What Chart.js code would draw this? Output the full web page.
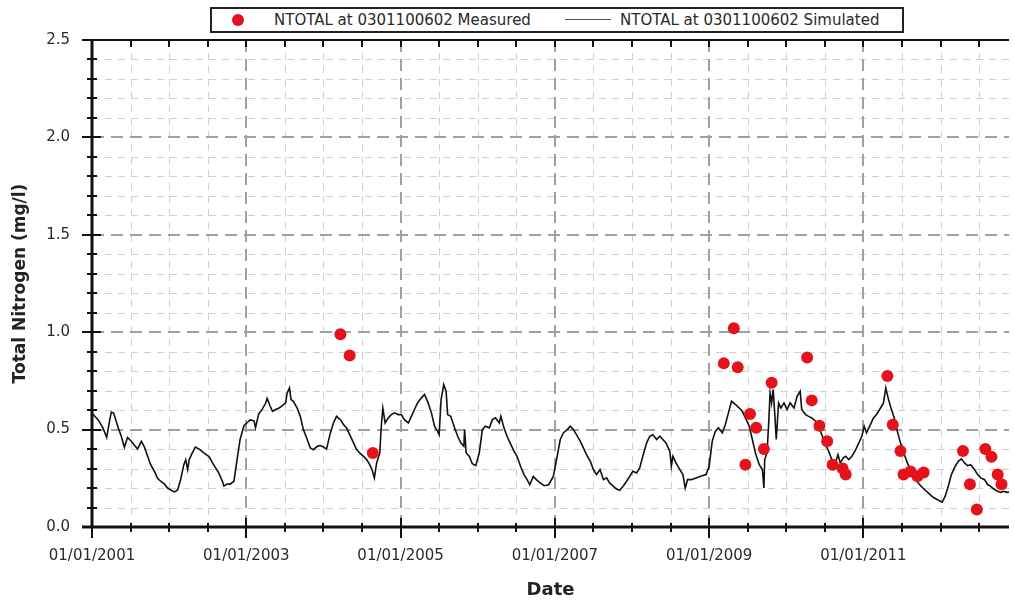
<!DOCTYPE html>
<html>
<head>
<meta charset="utf-8">
<title>NTOTAL at 0301100602</title>
<script src="https://cdn.jsdelivr.net/npm/chart.js@4.4.1/dist/chart.umd.min.js"></script>
<style>
  html, body { margin: 0; padding: 0; background: #fff; }
  #wrap { position: relative; width: 1015px; height: 603px; overflow: hidden; }
  #legend {
    position: absolute; left: 210px; top: 7px; width: 690px; height: 22px;
    border: 2px solid #222; background: #fff;
    font: 15px "DejaVu Sans", sans-serif; color: #2a2a2a;
  }
  #legend span { position: absolute; top: 2px; white-space: nowrap; line-height: 18px; }
  #legend .dot { position: absolute; top: 5px; width: 12px; height: 12px; border-radius: 50%; }
  #legend .seg { position: absolute; top: 10px; height: 1px; }
</style>
</head>
<body>
<div id="wrap">
  <canvas id="ntotalChart" width="1015" height="603"></canvas>
  <div id="legend"></div>
</div>
<script>
// measured samples (decimal year, mg/l)
const measYears = [2004.22, 2004.34, 2004.64,
  2009.19, 2009.32, 2009.37, 2009.47, 2009.53, 2009.61, 2009.71, 2009.81,
  2010.27, 2010.33, 2010.43, 2010.53, 2010.60, 2010.73, 2010.77,
  2011.31, 2011.38, 2011.48, 2011.52, 2011.61, 2011.70, 2011.78,
  2012.29, 2012.38, 2012.47, 2012.58, 2012.66, 2012.74, 2012.79];
const measValues = [0.99, 0.88, 0.38,
  0.84, 1.02, 0.82, 0.32, 0.58, 0.51, 0.40, 0.74,
  0.87, 0.65, 0.52, 0.44, 0.32, 0.30, 0.27,
  0.775, 0.525, 0.39, 0.27, 0.285, 0.26, 0.28,
  0.39, 0.22, 0.09, 0.40, 0.36, 0.27, 0.22];

// simulated series, one line per year
const simYears = [
  2001.01, 2001.08, 2001.14, 2001.19, 2001.23, 2001.25, 2001.28, 2001.34, 2001.38, 2001.42, 2001.46, 2001.51, 2001.55, 2001.59, 2001.64, 2001.68, 2001.72, 2001.76, 2001.81, 2001.85, 2001.89, 2001.94, 2001.98,
  2002.02, 2002.07, 2002.11, 2002.15, 2002.19, 2002.215, 2002.24, 2002.26, 2002.30, 2002.34, 2002.39, 2002.45, 2002.52, 2002.56, 2002.60, 2002.64, 2002.69, 2002.71, 2002.75, 2002.79, 2002.84, 2002.88, 2002.92, 2002.97,
  2003.01, 2003.05, 2003.10, 2003.12, 2003.16, 2003.20, 2003.25, 2003.27, 2003.31, 2003.34, 2003.38, 2003.42, 2003.46, 2003.51, 2003.53, 2003.56, 2003.58, 2003.61, 2003.66, 2003.70, 2003.74, 2003.79, 2003.83, 2003.87, 2003.92, 2003.96,
  2004.00, 2004.04, 2004.09, 2004.13, 2004.17, 2004.22, 2004.26, 2004.30, 2004.34, 2004.39, 2004.43, 2004.47, 2004.52, 2004.56, 2004.60, 2004.63, 2004.66, 2004.69, 2004.73, 2004.75, 2004.77, 2004.80, 2004.84, 2004.88, 2004.92, 2004.97,
  2005.01, 2005.05, 2005.10, 2005.14, 2005.18, 2005.22, 2005.27, 2005.31, 2005.35, 2005.40, 2005.44, 2005.48, 2005.50, 2005.525, 2005.56, 2005.59, 2005.61, 2005.65, 2005.70, 2005.74, 2005.78, 2005.82, 2005.83, 2005.85, 2005.89, 2005.93, 2005.975,
  2006.02, 2006.06, 2006.10, 2006.15, 2006.19, 2006.23, 2006.28, 2006.30, 2006.34, 2006.38, 2006.43, 2006.47, 2006.51, 2006.555, 2006.60, 2006.64, 2006.675, 2006.72, 2006.76, 2006.81, 2006.86, 2006.92, 2006.98,
  2007.03, 2007.07, 2007.11, 2007.16, 2007.20, 2007.24, 2007.28, 2007.33, 2007.37, 2007.41, 2007.46, 2007.50, 2007.54, 2007.585, 2007.63, 2007.67, 2007.71, 2007.76, 2007.80, 2007.84, 2007.885, 2007.93, 2007.97,
  2008.01, 2008.06, 2008.10, 2008.14, 2008.19, 2008.23, 2008.27, 2008.32, 2008.36, 2008.40, 2008.44, 2008.49, 2008.51, 2008.53, 2008.57, 2008.62, 2008.66, 2008.69, 2008.72, 2008.77, 2008.83, 2008.89, 2008.96,
  2009.00, 2009.04, 2009.08, 2009.12, 2009.17, 2009.21, 2009.25, 2009.29, 2009.34, 2009.39, 2009.43, 2009.47, 2009.52, 2009.56, 2009.60, 2009.65, 2009.69, 2009.71, 2009.72, 2009.75, 2009.77, 2009.79, 2009.81, 2009.83, 2009.85, 2009.87, 2009.90, 2009.93, 2009.97,
  2010.01, 2010.05, 2010.10, 2010.14, 2010.18, 2010.20, 2010.25, 2010.29, 2010.33, 2010.38, 2010.42, 2010.46, 2010.50, 2010.55, 2010.59, 2010.63, 2010.67, 2010.70, 2010.74, 2010.77, 2010.81, 2010.85, 2010.89, 2010.93, 2010.98,
  2011.01, 2011.04, 2011.08, 2011.13, 2011.17, 2011.21, 2011.26, 2011.29, 2011.32, 2011.35, 2011.40, 2011.44, 2011.48, 2011.53, 2011.57, 2011.61, 2011.66, 2011.71, 2011.77, 2011.84, 2011.90, 2011.96,
  2012.02, 2012.06, 2012.10, 2012.14, 2012.19, 2012.23, 2012.27, 2012.31, 2012.35, 2012.39, 2012.44, 2012.48, 2012.52, 2012.57, 2012.61, 2012.65, 2012.69, 2012.74, 2012.78, 2012.82, 2012.87, 2012.89
];
const simValues = [
  0.58, 0.55, 0.51, 0.46, 0.55, 0.59, 0.585, 0.51, 0.465, 0.41, 0.46, 0.44, 0.42, 0.40, 0.44, 0.41, 0.365, 0.32, 0.285, 0.25, 0.235, 0.22, 0.20,
  0.19, 0.18, 0.19, 0.245, 0.32, 0.345, 0.295, 0.345, 0.38, 0.41, 0.40, 0.38, 0.36, 0.33, 0.305, 0.28, 0.235, 0.21, 0.22, 0.22, 0.235, 0.345, 0.45, 0.52,
  0.535, 0.55, 0.545, 0.51, 0.58, 0.60, 0.635, 0.66, 0.62, 0.594, 0.603, 0.61, 0.62, 0.637, 0.688, 0.714, 0.654, 0.645, 0.61, 0.568, 0.50, 0.449, 0.406, 0.397, 0.414, 0.418,
  0.411, 0.40, 0.483, 0.534, 0.568, 0.551, 0.526, 0.509, 0.474, 0.432, 0.397, 0.38, 0.363, 0.346, 0.32, 0.295, 0.252, 0.329, 0.38, 0.517, 0.61, 0.534, 0.56, 0.577, 0.586, 0.577,
  0.577, 0.551, 0.534, 0.568, 0.603, 0.637, 0.663, 0.68, 0.645, 0.586, 0.517, 0.491, 0.474, 0.654, 0.731, 0.697, 0.577, 0.568, 0.509, 0.466, 0.432, 0.414, 0.50, 0.38, 0.363, 0.325, 0.315,
  0.38, 0.50, 0.517, 0.509, 0.551, 0.56, 0.534, 0.568, 0.509, 0.466, 0.423, 0.389, 0.363, 0.312, 0.269, 0.243, 0.217, 0.26, 0.243, 0.226, 0.212, 0.217, 0.26,
  0.363, 0.449, 0.483, 0.50, 0.517, 0.50, 0.474, 0.44, 0.406, 0.372, 0.337, 0.295, 0.269, 0.295, 0.243, 0.252, 0.226, 0.209, 0.195, 0.188, 0.209, 0.235, 0.26,
  0.286, 0.277, 0.303, 0.363, 0.432, 0.466, 0.474, 0.449, 0.466, 0.449, 0.432, 0.389, 0.312, 0.363, 0.329, 0.295, 0.269, 0.20, 0.243, 0.243, 0.252, 0.26, 0.269,
  0.312, 0.44, 0.491, 0.509, 0.483, 0.526, 0.586, 0.646, 0.629, 0.611, 0.594, 0.56, 0.517, 0.449, 0.38, 0.32, 0.295, 0.20, 0.346, 0.38, 0.517, 0.688, 0.637, 0.706, 0.586, 0.449, 0.637, 0.611, 0.637,
  0.603, 0.637, 0.611, 0.671, 0.697, 0.603, 0.577, 0.568, 0.56, 0.543, 0.517, 0.474, 0.432, 0.389, 0.346, 0.32, 0.372, 0.329, 0.355, 0.363, 0.346, 0.363, 0.389, 0.423, 0.466,
  0.517, 0.483, 0.517, 0.56, 0.577, 0.603, 0.637, 0.714, 0.663, 0.62, 0.56, 0.491, 0.432, 0.372, 0.329, 0.295, 0.252, 0.226, 0.20, 0.175, 0.154, 0.14,
  0.127, 0.158, 0.209, 0.269, 0.312, 0.337, 0.35, 0.329, 0.315, 0.32, 0.295, 0.269, 0.252, 0.243, 0.218, 0.209, 0.195, 0.183, 0.178, 0.183, 0.178, 0.18
];

// labelled ticks
const xLabelYears = [2001, 2003, 2005, 2007, 2009, 2011];
const yLabelValues = [0.0, 0.5, 1.0, 1.5, 2.0, 2.5];

const X_MIN = 2001;
const X_MAX = 2012.887;
const RED = '#e5121c';

const isMajorX = v => xLabelYears.some(l => Math.abs(l - v) < 1e-6);
const isMajorY = v => yLabelValues.some(l => Math.abs(l - v) < 1e-6);

// dashed grid + axis frame with crossing tick marks
const paperFrame = {
    id: 'paperFrame',
    beforeDatasetsDraw(chart) {
        const { ctx, chartArea: a, scales: { x, y } } = chart;
        ctx.save();
        ctx.beginPath();
        ctx.rect(a.left, a.top, a.right - a.left, a.bottom - a.top);
        ctx.clip();
        [false, true].forEach(major => {
            ctx.strokeStyle = major ? '#a0a0a0' : '#d0d0d0';
            ctx.lineWidth = major ? 2 : 1;
            ctx.setLineDash(major ? [12, 7] : [7, 6]);
            y.ticks.forEach(t => {
                if (isMajorY(t.value) !== major) return;
                const py = Math.round(y.getPixelForValue(t.value)) + (major ? 0 : 0.5);
                ctx.beginPath();
                ctx.moveTo(a.left, py);
                ctx.lineTo(a.right, py);
                ctx.stroke();
            });
            x.ticks.forEach(t => {
                if (isMajorX(t.value) !== major) return;
                const px = Math.round(x.getPixelForValue(t.value)) + (major ? 0 : 0.5);
                ctx.beginPath();
                ctx.moveTo(px, a.top);
                ctx.lineTo(px, a.bottom);
                ctx.stroke();
            });
        });
        ctx.restore();
    },
    afterDatasetsDraw(chart) {
        const { ctx, chartArea: a, scales: { x, y } } = chart;
        ctx.save();
        ctx.strokeStyle = '#111';
        ctx.setLineDash([]);

        ctx.lineWidth = 2;
        ctx.beginPath(); ctx.moveTo(a.left, a.top); ctx.lineTo(a.right, a.top); ctx.stroke();
        ctx.lineWidth = 3;
        ctx.beginPath(); ctx.moveTo(a.left, a.top); ctx.lineTo(a.left, a.bottom); ctx.stroke();
        ctx.beginPath(); ctx.moveTo(a.left - 10, a.bottom); ctx.lineTo(a.right, a.bottom); ctx.stroke();

        ctx.lineWidth = 2;
        y.ticks.forEach(t => {
            const py = Math.round(y.getPixelForValue(t.value));
            const major = isMajorY(t.value);
            ctx.beginPath();
            ctx.moveTo(a.left - (major ? 10 : 5), py);
            ctx.lineTo(a.left + (major ? 9 : 5), py);
            ctx.stroke();
        });
        x.ticks.forEach(t => {
            const px = Math.round(x.getPixelForValue(t.value));
            const major = isMajorX(t.value);
            ctx.beginPath();
            ctx.moveTo(px, a.bottom - (major ? 9 : 4));
            ctx.lineTo(px, a.bottom + (major ? 11 : 5));
            ctx.stroke();
            ctx.beginPath();
            ctx.moveTo(px, a.top);
            ctx.lineTo(px, a.top + 7);
            ctx.stroke();
        });
        ctx.restore();
    }
};

document.addEventListener('DOMContentLoaded', function() {
    const canvas = document.getElementById('ntotalChart');

    const measured = measYears.map((yr, i) => ({ x: yr, y: measValues[i] }));
    const simulated = simYears.map((yr, i) => ({ x: yr, y: simValues[i] }));

    const chart = new Chart(canvas, {
        type: 'line',
        data: {
            datasets: [{
                label: 'NTOTAL at 0301100602 Measured',
                data: measured,
                showLine: false,
                pointRadius: 6,
                pointHoverRadius: 6,
                pointBackgroundColor: RED,
                pointBorderWidth: 0,
                borderColor: RED,
                backgroundColor: RED,
                order: 0
            }, {
                label: 'NTOTAL at 0301100602 Simulated',
                data: simulated,
                borderColor: '#111',
                borderWidth: 1.6,
                pointRadius: 0,
                tension: 0,
                order: 1
            }]
        },
        options: {
            responsive: false,
            animation: false,
            events: [],
            layout: { padding: { top: 40, right: 0, bottom: 0, left: 0 } },
            scales: {
                x: {
                    type: 'linear',
                    min: X_MIN,
                    max: X_MAX,
                    grid: { display: false, drawTicks: false },
                    border: { display: false },
                    ticks: {
                        stepSize: 0.5,
                        includeBounds: false,
                        autoSkip: false,
                        maxRotation: 0,
                        padding: 20,
                        color: '#2a2a2a',
                        font: { family: '"DejaVu Sans", sans-serif', size: 15 },
                        callback: v => isMajorX(v) ? '01/01/' + Math.round(v) : ''
                    },
                    title: {
                        display: true,
                        text: 'Date',
                        color: '#222',
                        padding: { top: 0, bottom: 2 },
                        font: { family: '"DejaVu Sans", sans-serif', size: 18, weight: 'bold' }
                    },
                    afterFit(s) { s.height = 76; }
                },
                y: {
                    min: 0,
                    max: 2.5,
                    grid: { display: false, drawTicks: false },
                    border: { display: false },
                    ticks: {
                        stepSize: 0.1,
                        autoSkip: false,
                        padding: 22,
                        color: '#2a2a2a',
                        font: { family: '"DejaVu Sans", sans-serif', size: 15 },
                        callback: v => isMajorY(v) ? v.toFixed(1) : ''
                    },
                    title: {
                        display: true,
                        text: 'Total Nitrogen (mg/l)',
                        color: '#222',
                        padding: { top: 10, bottom: 0 },
                        font: { family: '"DejaVu Sans", sans-serif', size: 17, weight: 'bold' }
                    },
                    afterFit(s) { s.width = 92; }
                }
            },
            plugins: {
                legend: { display: false },
                tooltip: { enabled: false }
            }
        },
        plugins: [paperFrame]
    });

    // boxed legend at the top, built from the dataset labels
    const legend = document.getElementById('legend');
    const [measSet, simSet] = chart.data.datasets;
    legend.innerHTML =
        '<i class="dot" style="left:20px;background:' + RED + '"></i>' +
        '<span style="left:62px">' + measSet.label + '</span>' +
        '<i class="seg" style="left:353px;width:46px;background:#555"></i>' +
        '<span style="left:408px">' + simSet.label + '</span>';
});
</script>
</body>
</html>
